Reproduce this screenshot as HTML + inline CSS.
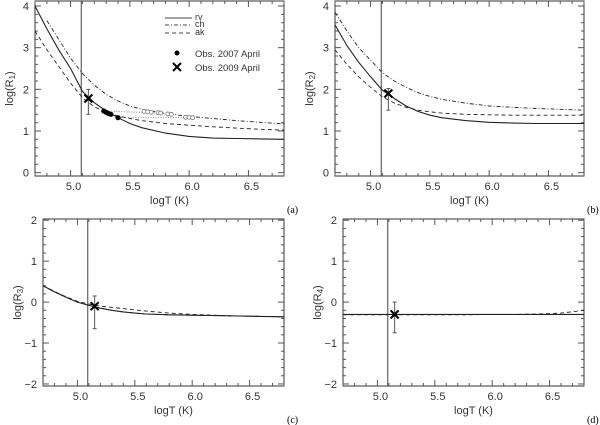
<!DOCTYPE html>
<html><head><meta charset="utf-8"><style>
body{margin:0;background:#fff}
svg{display:block;font-family:"Liberation Sans",sans-serif}
</style></head><body>
<svg id="c" width="600" height="425" viewBox="0 0 600 425"></svg>
<script>
const xGrid=[4.7,4.8,4.9,5.0,5.1,5.2,5.3,5.4,5.5,5.6,5.8,6.0,6.2,6.4,6.6,6.8];
const aRv=[4.0,3.45,2.95,2.5,1.95,1.68,1.48,1.32,1.18,1.08,0.95,0.87,0.83,0.82,0.81,0.8];
const aCh=[null,3.65,3.2,2.75,2.38,2.1,1.88,1.72,1.6,1.52,1.42,1.35,1.3,1.25,1.21,1.17];
const aAk=[3.4,2.95,2.55,2.15,1.8,1.58,1.45,1.36,1.3,1.25,1.18,1.14,1.1,1.07,1.04,1.02];
const bRv=[3.55,3.05,2.65,2.3,1.98,1.78,1.6,1.47,1.38,1.32,1.25,1.21,1.19,1.18,1.18,1.18];
const bCh=[3.85,3.4,3.0,2.7,2.4,2.2,2.05,1.92,1.83,1.76,1.67,1.6,1.57,1.54,1.52,1.5];
const bAk=[2.95,2.6,2.3,2.05,1.82,1.67,1.57,1.5,1.46,1.43,1.4,1.39,1.38,1.38,1.38,1.38];
const cRv=[0.4,0.25,0.12,0.0,-0.08,-0.15,-0.2,-0.24,-0.27,-0.29,-0.31,-0.32,-0.33,-0.34,-0.35,-0.36];
const cCh=[0.4,0.25,0.12,0.0,-0.08,-0.15,-0.2,-0.24,-0.27,-0.29,-0.31,-0.32,-0.33,-0.34,-0.35,-0.36];
const cAk=[0.4,0.26,0.13,0.02,-0.05,-0.1,-0.13,-0.16,-0.19,-0.22,-0.27,-0.3,-0.32,-0.34,-0.35,-0.36];
const dRv=[-0.3,-0.3,-0.3,-0.3,-0.3,-0.3,-0.3,-0.3,-0.3,-0.3,-0.3,-0.3,-0.3,-0.3,-0.3,-0.3];
const dCh=[-0.3,-0.3,-0.3,-0.3,-0.3,-0.3,-0.3,-0.3,-0.3,-0.3,-0.3,-0.3,-0.3,-0.3,-0.3,-0.3];
const dAk=[-0.31,-0.31,-0.31,-0.31,-0.31,-0.31,-0.31,-0.31,-0.31,-0.31,-0.31,-0.3,-0.3,-0.29,-0.27,-0.2];
const obs07X=[5.28,5.30,5.32,5.34,5.40];
const obs07Y=[1.48,1.45,1.42,1.40,1.32];
const open07X=[5.62,5.65,5.68,5.74,5.76,5.82,5.85,5.97,6.0,6.03];
const open07Y=[1.47,1.46,1.45,1.44,1.43,1.41,1.40,1.33,1.33,1.32];
const obs09X=[5.15,5.15,5.15,5.15];
const obs09Y=[1.78,1.9,-0.1,-0.3];
const obs09Lo=[1.4,1.5,-0.65,-0.75];
const obs09Hi=[2.0,2.02,0.15,0.0];
const xTicks=[5.0,5.5,6.0,6.5];
const xTickLabels=["5.0","5.5","6.0","6.5"];
const yTicksTop=[0,1,2,3,4];
const yTicksBot=[-2,-1,0,1,2];
const vLineX=5.09;

const S=document.getElementById('c');const NS='http://www.w3.org/2000/svg';
function mk(t,a,p){const e=document.createElementNS(NS,t);for(const k in a)e.setAttribute(k,a[k]);(p||S).appendChild(e);return e;}

function panel(idx,box,yr,yticks,rv,ch,ak,lab,ylabSub){
  const g=mk('g',{});
  
  
  const [L,T,R,B]=box;
  const sx=x=>L+(x-4.7)/(6.8-4.7)*(R-L);
  const sy=y=>B-(y-yr[0])/(yr[1]-yr[0])*(B-T);
  const clip='cl'+idx;
  const cp=mk('clipPath',{id:clip},g);mk('rect',{x:L,y:T,width:R-L,height:B-T},cp);
  const fr=mk('rect',{x:L,y:T,width:R-L,height:B-T,fill:'none',stroke:'#333','stroke-width':1},g);
  
  
  // minor x ticks
  for(let v=4.7;v<=6.81;v+=0.1){const X=sx(v);const maj=xTicks.some(t=>Math.abs(t-v)<0.01);const l=maj?6:3;
    mk('line',{x1:X,y1:B,x2:X,y2:B-l,stroke:'#555'},g);mk('line',{x1:X,y1:T,x2:X,y2:T+l,stroke:'#555'},g);}
  for(let v=yr[0];v<=yr[1];v+=0.2){const vv=Math.round(v*5)/5;if(vv<yr[0]||vv>yr[1])continue;const Y=sy(vv);const maj=Math.abs(vv-Math.round(vv))<0.01;const l=maj?6:3;
    mk('line',{x1:L,y1:Y,x2:L+l,y2:Y,stroke:'#555'},g);mk('line',{x1:R,y1:Y,x2:R-l,y2:Y,stroke:'#555'},g);}
  xTicks.forEach((t,i)=>{const e=mk('text',{x:sx(t)+3,y:B+14,'text-anchor':'middle','font-size':11,fill:'#333'},g);e.textContent=xTickLabels[i];
    });
  yticks.forEach(t=>{const e=mk('text',{x:L-6,y:sy(t)+4,'text-anchor':'end','font-size':11,fill:'#333'},g);e.textContent=(t<0?'\u2212':'')+Math.abs(t);
    });
  const xt=mk('text',{x:(L+R)/2+10,y:B+28,'text-anchor':'middle','font-size':11,fill:'#333'},g);xt.textContent='logT (K)';
  
  const yt=mk('text',{transform:`translate(${L-22},${(T+B)/2}) rotate(-90)`,'text-anchor':'middle','font-size':11,fill:'#333'},g);
  yt.innerHTML=`log(R<tspan font-size="8" dy="2">${ylabSub}</tspan><tspan dy="-2">)</tspan>`;
  
  const pl=mk('text',{x:R+3,y:B+37,'font-size':10,'font-family':'Liberation Serif, serif',fill:'#000'},g);pl.textContent='('+lab+')';
  
  const vl=mk('line',{x1:sx(vLineX),y1:T,x2:sx(vLineX),y2:B,stroke:'#444','stroke-width':1},g);
  
  const cg=mk('g',{'clip-path':`url(#${clip})`},g);
  function line(arr,dash,w,name){let d='';arr.forEach((v,i)=>{if(v==null)return;d+=(d?'L':'M')+sx(xGrid[i]).toFixed(1)+','+sy(v).toFixed(1);});
    const p=mk('path',{d,fill:'none',stroke:'#222','stroke-width':w,'stroke-dasharray':dash},cg);
    }
  line(ch,'4,2,1,2',0.9,'ch-curve');line(ak,'4,3',0.9,'ak-curve');line(rv,'none',1.1,'rv-curve');
  return {sx,sy,g,cg};
}
const P=[
 panel(0,[35,1,284,176],[-0.08,4.12],yTicksTop,aRv,aCh,aAk,'a','1'),
 panel(1,[335,1,584,176],[-0.08,4.12],yTicksTop,bRv,bCh,bAk,'b','2'),
 panel(2,[43,219,284,386],[-2.05,2.03],yTicksBot,cRv,cCh,cAk,'c','3'),
 panel(3,[343,219,584,386],[-2.05,2.03],yTicksBot,dRv,dCh,dAk,'d','4')];
// obs 2007 in panel a
const pa=P[0];
const dl1=mk('line',{x1:pa.sx(obs07X[0]),y1:pa.sy(obs07Y[0]),x2:pa.sx(open07X[4]),y2:pa.sy(open07Y[4]),stroke:'#888','stroke-dasharray':'1,1.5'},pa.g);

const dl2=mk('line',{x1:pa.sx(obs07X[4]),y1:pa.sy(obs07Y[4]),x2:pa.sx(open07X[9]),y2:pa.sy(open07Y[9]),stroke:'#888','stroke-dasharray':'1,1.5'},pa.g);

obs07X.forEach((x,i)=>{const c=mk('circle',{cx:pa.sx(x),cy:pa.sy(obs07Y[i]),r:2.6,fill:'#000'},pa.g);
  });
open07X.forEach((x,i)=>{const c=mk('circle',{cx:pa.sx(x),cy:pa.sy(open07Y[i]),r:2,fill:'#fff',stroke:'#777','stroke-width':0.8},pa.g);
  });
// obs 2009 in all panels
P.forEach((p,i)=>{const X=p.sx(obs09X[i]),Y=p.sy(obs09Y[i]);
  const e=mk('line',{x1:X,y1:p.sy(obs09Lo[i]),x2:X,y2:p.sy(obs09Hi[i]),stroke:'#555','stroke-width':1},p.g);
  
  mk('line',{x1:X-2,y1:p.sy(obs09Lo[i]),x2:X+2,y2:p.sy(obs09Lo[i]),stroke:'#555'},p.g);
  mk('line',{x1:X-2,y1:p.sy(obs09Hi[i]),x2:X+2,y2:p.sy(obs09Hi[i]),stroke:'#555'},p.g);
  const m=mk('path',{d:`M${X-4},${Y-4}L${X+4},${Y+4}M${X-4},${Y+4}L${X+4},${Y-4}`,stroke:'#000','stroke-width':2},p.g);
  });
// legend
const lg=mk('g',{});

[['rv','none',18],['ch','4,2,1,2',25],['ak','4,3',33]].forEach(([n,d,y])=>{
  const e=mk('g',{},lg);
  mk('line',{x1:165,y1:y,x2:192,y2:y,stroke:'#444','stroke-dasharray':d},e);
  const t=mk('text',{x:195,y:y+2,'font-size':9,fill:'#333'},e);t.textContent=n;});
const e1=mk('g',{},lg);
mk('circle',{cx:177,cy:53,r:2.5,fill:'#000'},e1);
const t1=mk('text',{x:195,y:57,'font-size':9.5,fill:'#333'},e1);t1.textContent='Obs. 2007 April';
const e2=mk('g',{},lg);
mk('path',{d:'M173,63L181,71M173,71L181,63',stroke:'#000','stroke-width':2},e2);
const t2=mk('text',{x:195,y:71,'font-size':9.5,fill:'#333'},e2);t2.textContent='Obs. 2009 April';
</script>
</body></html>
